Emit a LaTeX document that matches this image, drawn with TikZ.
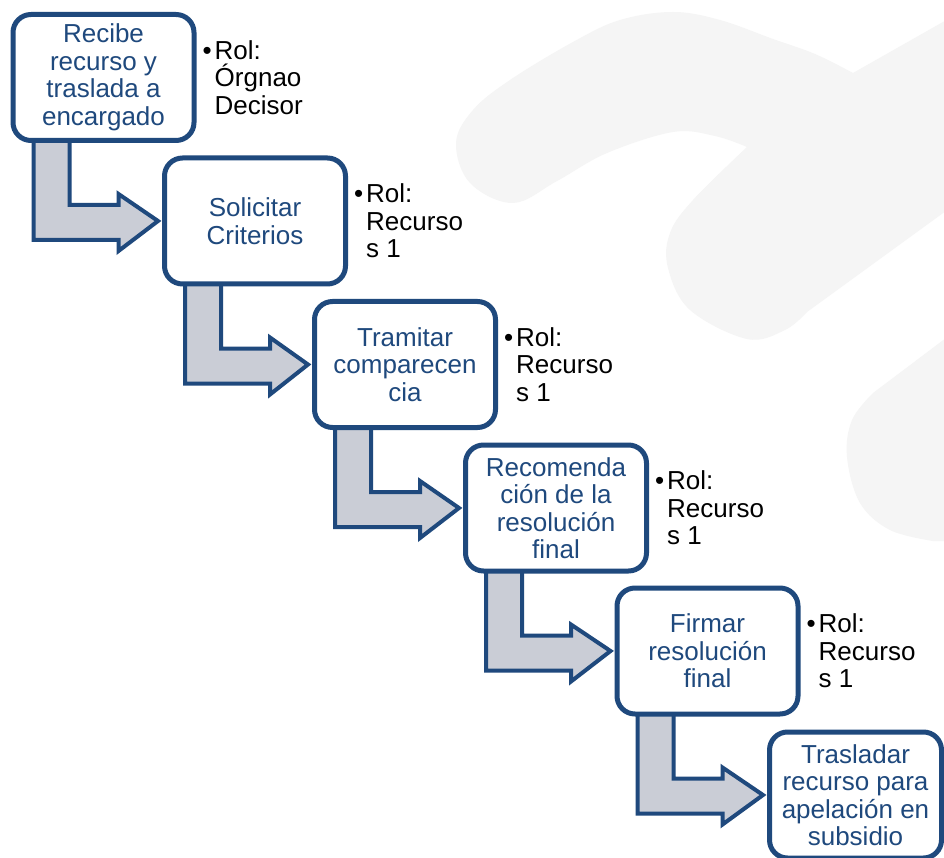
\documentclass[tikz,border=0pt]{standalone}
\usepackage{fontspec}
\setmainfont{Liberation Sans}
\usetikzlibrary{calc}
\definecolor{navy}{RGB}{31,73,125}
\definecolor{arrowgray}{RGB}{202,205,214}
\definecolor{swooshgray}{RGB}{245,245,245}
\pgfdeclarelayer{swooshlayer}
\pgfdeclarelayer{arrowlayer}
\pgfsetlayers{swooshlayer,arrowlayer,main}
\tikzset{
  stepbox/.style={draw=navy, line width=5pt, fill=white, rounded corners=18pt,
    minimum width=181pt, minimum height=126pt, inner sep=0pt, align=center,
    text=navy, font=\fontsize{26}{27.5}\selectfont},
  rolelabel/.style={anchor=north west, inner sep=0pt, align=left, text=black,
    font=\fontsize{26}{27.5}\selectfont},
  flowarrow/.style={draw=navy, line width=4pt, fill=arrowgray, line join=miter},
  swoosh/.style={fill=swooshgray},
}
\newcommand\stepflow[2]{%
  \draw[flowarrow]
    ($(#1.north west)+(23,100)$) -- ($(#1.north west)+(23,228)$)
    -- ($(#1.north west)+(108,228)$) -- ($(#1.north west)+(108,239)$)
    -- ($(#2.west)+(-4,0)$)
    -- ($(#1.north west)+(108,182)$) -- ($(#1.north west)+(108,193)$)
    -- ($(#1.north west)+(59,193)$) -- ($(#1.north west)+(59,100)$) -- cycle;}
\begin{document}
\begin{tikzpicture}[x=1pt,y=-1pt]
\useasboundingbox (0,0) rectangle (944,858);
\begin{pgfonlayer}{swooshlayer}
  \clip (0,0) rectangle (944,858);
  \fill[white] (0,0) rectangle (944,858);
  \fill[swoosh] (950,18) -- (853,73)
    -- plot[smooth, tension=0.6] coordinates {(853,73) (815,54) (773,39) (720,20) (673,12) (620,20) (573,42) (510,80) (473,110) (456,143) (470,183) (513,203) (557,181) (607,153) (673,132) (715,136) (747,147)}
    -- plot[smooth, tension=0.6] coordinates {(747,147) (693,200) (670,233) (668,268) (690,310) (747,339) (785,330) (807,312)}
    -- (950,208) -- cycle;
  \fill[swoosh] (950,335) -- (873,393)
    -- plot[smooth, tension=0.6] coordinates {(873,393) (852,420) (847,457) (860,503) (890,530) (933,541)}
    -- (950,541) -- cycle;
\end{pgfonlayer}

\node[stepbox] (b1) at (103.5,77.5) {Recibe\\recurso y\\traslada a\\encargado};
\node[stepbox] (b2) at (255,221) {Solicitar\\Criterios};
\node[stepbox] (b3) at (405,364.5) {Tramitar\\comparecen\\cia};
\node[stepbox] (b4) at (556,508) {Recomenda\\ción de la\\resolución\\final};
\node[stepbox] (b5) at (707.5,651) {Firmar\\resolución\\final};
\node[stepbox, minimum width=172pt] (b6) at (855.5,795) {Trasladar\\recurso para\\apelación en\\subsidio};

\node[rolelabel] (r1) at ($(b1.north east)+(18,28)$) {\llap{•\hspace{3pt}}Rol:\\Órgnao\\Decisor};
\node[rolelabel] (r2) at ($(b2.north east)+(18,28)$) {\llap{•\hspace{3pt}}Rol:\\Recurso\\s 1};
\node[rolelabel] (r3) at ($(b3.north east)+(18,28)$) {\llap{•\hspace{3pt}}Rol:\\Recurso\\s 1};
\node[rolelabel] (r4) at ($(b4.north east)+(18,28)$) {\llap{•\hspace{3pt}}Rol:\\Recurso\\s 1};
\node[rolelabel] (r5) at ($(b5.north east)+(18,28)$) {\llap{•\hspace{3pt}}Rol:\\Recurso\\s 1};

\begin{pgfonlayer}{arrowlayer}
  \stepflow{b1}{b2}
  \stepflow{b2}{b3}
  \stepflow{b3}{b4}
  \stepflow{b4}{b5}
  \stepflow{b5}{b6}
\end{pgfonlayer}
\end{tikzpicture}
\end{document}
